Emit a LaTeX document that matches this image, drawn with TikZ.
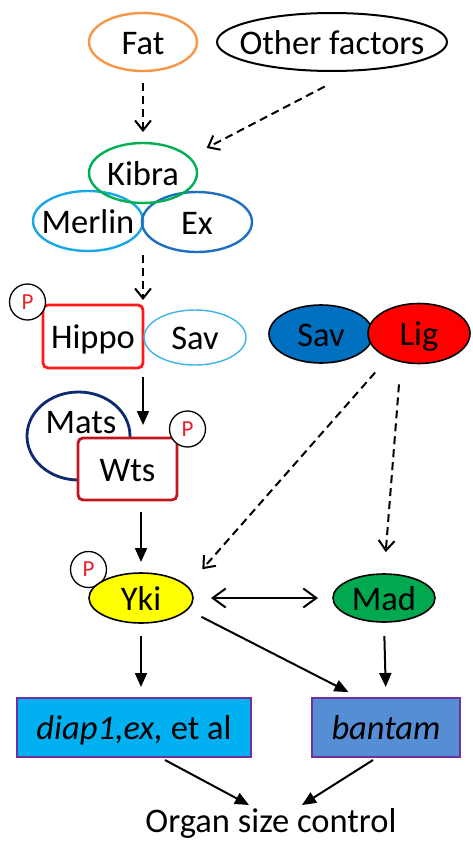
\documentclass[tikz,border=0pt]{standalone}
\usepackage{fontspec}
\setmainfont{Carlito}
\usetikzlibrary{shapes.geometric,arrows.meta}
\definecolor{cfat}{HTML}{F79646}
\definecolor{ckibra}{HTML}{00B050}
\definecolor{cmerlin}{HTML}{1AA7E8}
\definecolor{cex}{HTML}{1F6FC0}
\definecolor{csavl}{HTML}{3CB4E8}
\definecolor{csav}{HTML}{0070C0}
\definecolor{clig}{HTML}{FF0000}
\definecolor{chippo}{HTML}{FF1A1A}
\definecolor{cwts}{HTML}{C0141E}
\definecolor{cmats}{HTML}{0D2A70}
\definecolor{cyki}{HTML}{FFFF00}
\definecolor{cmad}{HTML}{00A84F}
\definecolor{cdiap}{HTML}{00B0F0}
\definecolor{cbantam}{HTML}{558ED5}
\definecolor{cbox}{HTML}{7030A0}
\definecolor{cpred}{HTML}{E8202A}
\begin{document}
\begin{tikzpicture}[x=1pt,y=-1pt,
 lab/.style={font=\fontsize{34.5}{40}\selectfont, text height=24pt, text depth=0pt},
 ell/.style={ellipse, draw, line width=2.4pt, inner sep=0pt, outer sep=0pt},
 box/.style={rectangle, draw, inner sep=0pt, outer sep=0pt, lab},
 pc/.style={circle, draw, line width=1.3pt, fill=white, minimum size=36pt, inner sep=0pt, outer sep=0pt, text=cpred, font=\fontsize{23}{26}\selectfont},
 solidarr/.style={line width=2pt, -{Triangle[length=14pt,width=12pt]}},
 dasharr/.style={line width=2pt, dash pattern=on 8pt off 5pt, -{Straight Barb[length=10pt,width=16pt]}},
 dblarr/.style={line width=2pt, {Straight Barb[length=13pt,width=19pt]}-{Straight Barb[length=13pt,width=19pt]}},
]
\useasboundingbox (0,0) rectangle (472,841);

% top
\node[ell, draw=cfat, minimum width=108pt, minimum height=58pt, label={[lab]center:Fat}] (fat) at (143,42) {};
\node[ell, draw=black, line width=2pt, minimum width=230pt, minimum height=58pt, label={[lab]center:Other factors}] (other) at (332,42) {};

% Kibra complex
\node[ell, draw=cmerlin, minimum width=110pt, minimum height=60pt, label={[lab]center:Merlin}] (merlin) at (88,221) {};
\node[ell, draw=cex, minimum width=110pt, minimum height=60pt, label={[lab]center:Ex}] (ex) at (197,222) {};
\node[ell, draw=ckibra, minimum width=108pt, minimum height=60pt, label={[lab]center:Kibra}] (kibra) at (143,173) {};

% Hippo / Sav
\node[box, draw=chippo, line width=2.8pt, rounded corners=5pt, minimum width=100pt, minimum height=63pt] (hippo) at (93,336.5) {Hippo};
\node[ell, draw=csavl, line width=1.4pt, minimum width=102pt, minimum height=55pt, label={[lab]center:Sav}] (savl) at (195,337.5) {};
\node[pc] (phippo) at (27.5,302) {P};

% Sav / Lig
\node[ell, draw=black, fill=csav, line width=1.6pt, minimum width=104pt, minimum height=58pt, label={[lab]center:Sav}] (sav) at (321,334) {};
\node[ell, draw=black, fill=clig, line width=1.6pt, minimum width=102pt, minimum height=60pt, label={[lab]center:Lig}] (lig) at (419,333.5) {};

% Mats / Wts
\node[ell, draw=cmats, line width=2.8pt, minimum width=103pt, minimum height=88pt] (mats) at (78.5,436) {};
\node[lab] (matst) at (81,421) {Mats};
\node[box, draw=cwts, fill=white, line width=2.8pt, rounded corners=5pt, minimum width=99pt, minimum height=62pt] (wts) at (127.5,469) {Wts};
\node[pc] (pwts) at (187.5,429) {P};

% Yki / Mad
\node[pc] (pyki) at (88.5,569.5) {P};
\node[ell, draw=black, fill=cyki, line width=1.6pt, minimum width=104pt, minimum height=50pt, label={[lab]center:Yki}] (yki) at (141,598) {};
\node[ell, draw=black, fill=cmad, line width=1.6pt, minimum width=102pt, minimum height=48pt, label={[lab]center:Mad}] (mad) at (384,598) {};

% targets
\node[box, draw=cbox, fill=cdiap, line width=1.4pt, minimum width=234pt, minimum height=59pt] (diap) at (134,727.5) {{\itshape diap1,ex,} et al};
\node[box, draw=cbox, fill=cbantam, line width=1.4pt, minimum width=148pt, minimum height=59pt] (bantam) at (386,727.5) {\itshape bantam};
\node[font=\fontsize{34.5}{40}\selectfont, anchor=base, inner sep=0pt] (organ) at (271,832) {Organ size control};

% connectors
\draw[dasharr, shorten <=12pt, shorten >=11pt] (fat.south) -- (kibra.north);
\draw[dasharr, shorten <=35pt, shorten >=20pt] (other.310) -- (kibra.19);
\draw[dasharr, shorten <=52pt, shorten >=5pt] (kibra.south) -- (hippo.north east);
\draw[solidarr, shorten <=9pt, shorten >=13pt] (hippo.south east) -- (hippo.south east |- wts.north);
\draw[solidarr, shorten <=12pt, shorten >=11pt] (yki.north |- wts.south) -- (yki.north);
\draw[dasharr, shorten <=20pt, shorten >=23pt] (lig.218) -- (yki.14);
\draw[dasharr, shorten <=23pt, shorten >=22pt] (lig.237) -- (mad.north);
\draw[dblarr, shorten <=18pt, shorten >=15pt] (yki.east) -- (mad.west);
\draw[solidarr, shorten <=13pt, shorten >=11pt] (yki.south) -- (yki.south |- diap.north);
\draw[solidarr, shorten <=16pt, shorten >=13pt] (yki.346) -- ([xshift=-26pt]bantam.north);
\draw[solidarr, shorten <=14pt, shorten >=11pt] (mad.south) -- (bantam.north);
\draw[solidarr] ([shift={(31,3)}]diap.south) -- ([shift={(-22,-27)}]organ.base);
\draw[solidarr] ([shift={(-13,3)}]bantam.south) -- ([shift={(31,-27)}]organ.base);
\end{tikzpicture}
\end{document}
